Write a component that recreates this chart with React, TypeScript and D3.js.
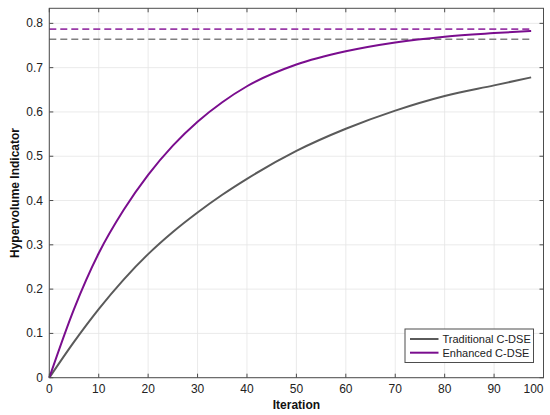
import React from "react";
import * as d3 from "d3";

const iterations = [0, 5, 10, 15, 20, 25, 30, 35, 40, 50, 60, 70, 80, 90, 97.5];
const traditional = [0, 0.081, 0.155, 0.221, 0.279, 0.329, 0.373, 0.413, 0.449, 0.512, 0.562, 0.603, 0.636, 0.66, 0.678];
const enhanced = [0, 0.155, 0.281, 0.378, 0.458, 0.524, 0.578, 0.622, 0.658, 0.707, 0.737, 0.757, 0.77, 0.778, 0.783];
const refTraditional = 0.764;
const refEnhanced = 0.787;
const xTicks = [0, 10, 20, 30, 40, 50, 60, 70, 80, 90, 100];
const yTicks = [0, 0.1, 0.2, 0.3, 0.4, 0.5, 0.6, 0.7, 0.8];
const seriesNames = ["Traditional C-DSE", "Enhanced C-DSE"];

const W = 550, H = 415;
const L = 49.3, R = 543.5, T = 8.3, B = 377.7;
const GRAY = "#5a5a5a";
const PURPLE = "#7a0d8e";
const FONT = "Liberation Sans, Arial, sans-serif";

export default function App() {
  const x = d3.scaleLinear().domain([0, 100]).range([L, R]);
  const y = d3.scaleLinear().domain([0, 0.834]).range([B, T]);
  const line = d3.line<number>()
    .x((_, i) => x(iterations[i]))
    .y((d) => y(d))
    .curve(d3.curveMonotoneX);
  const xEnd = iterations[iterations.length - 1];

  return (
    <svg width={W} height={H} style={{ display: "block", position: "absolute", left: 0, top: 0 }} fontFamily={FONT}>
      <rect x={0} y={0} width={W} height={H} fill="#ffffff" />
      {/* grid */}
      {xTicks.map((t) => (
        <line key={"gx" + t} x1={x(t)} x2={x(t)} y1={T} y2={B} stroke="#e4e4e4" strokeWidth={0.8} />
      ))}
      {yTicks.map((t) => (
        <line key={"gy" + t} x1={L} x2={R} y1={y(t)} y2={y(t)} stroke="#e4e4e4" strokeWidth={0.8} />
      ))}
      {/* reference lines */}
      <line x1={x(0)} x2={x(xEnd)} y1={y(refEnhanced)} y2={y(refEnhanced)} stroke="#9a3aa8" strokeWidth={1.6} strokeDasharray="7,4" />
      <line x1={x(0)} x2={x(xEnd)} y1={y(refTraditional)} y2={y(refTraditional)} stroke="#808080" strokeWidth={1.6} strokeDasharray="7,4" />
      {/* curves */}
      <path d={line(traditional) || ""} fill="none" stroke={GRAY} strokeWidth={2} />
      <path d={line(enhanced) || ""} fill="none" stroke={PURPLE} strokeWidth={2} />
      {/* box */}
      <rect x={L} y={T} width={R - L} height={B - T} fill="none" stroke="#4d4d4d" strokeWidth={1} />
      {/* ticks */}
      {xTicks.map((t, i) => (
        <g key={"tx" + t}>
          <line x1={x(t)} x2={x(t)} y1={B} y2={B - 4} stroke="#4d4d4d" />
          <line x1={x(t)} x2={x(t)} y1={T} y2={T + 4} stroke="#4d4d4d" />
          <text x={i === xTicks.length - 1 ? R : x(t)} y={393} fontSize={12} fill="#222"
            textAnchor={i === xTicks.length - 1 ? "end" : "middle"}>{t}</text>
        </g>
      ))}
      {yTicks.map((t) => (
        <g key={"ty" + t}>
          <line x1={L} x2={L + 4} y1={y(t)} y2={y(t)} stroke="#4d4d4d" />
          <line x1={R} x2={R - 4} y1={y(t)} y2={y(t)} stroke="#4d4d4d" />
          <text x={43} y={y(t) + 4} fontSize={12} fill="#222" textAnchor="end">{t === 0 ? "0" : t.toFixed(1)}</text>
        </g>
      ))}
      {/* axis titles */}
      <text x={x(50)} y={409} fontSize={12} fontWeight="bold" textAnchor="middle" fill="#111">Iteration</text>
      <text transform={`translate(19,${(T + B) / 2}) rotate(-90)`} fontSize={12} fontWeight="bold" textAnchor="middle" fill="#111">Hypervolume Indicator</text>
      {/* legend */}
      <rect x={405} y={329} width={128.5} height={33.5} fill="#ffffff" stroke="#4d4d4d" strokeWidth={1} />
      {[GRAY, PURPLE].map((c, i) => (
        <g key={"lg" + i}>
          <line x1={410} x2={438.5} y1={339 + i * 13.7} y2={339 + i * 13.7} stroke={c} strokeWidth={2} />
          <text x={442.5} y={343 + i * 13.7} fontSize={11} fill="#222">{seriesNames[i]}</text>
        </g>
      ))}
    </svg>
  );
}
